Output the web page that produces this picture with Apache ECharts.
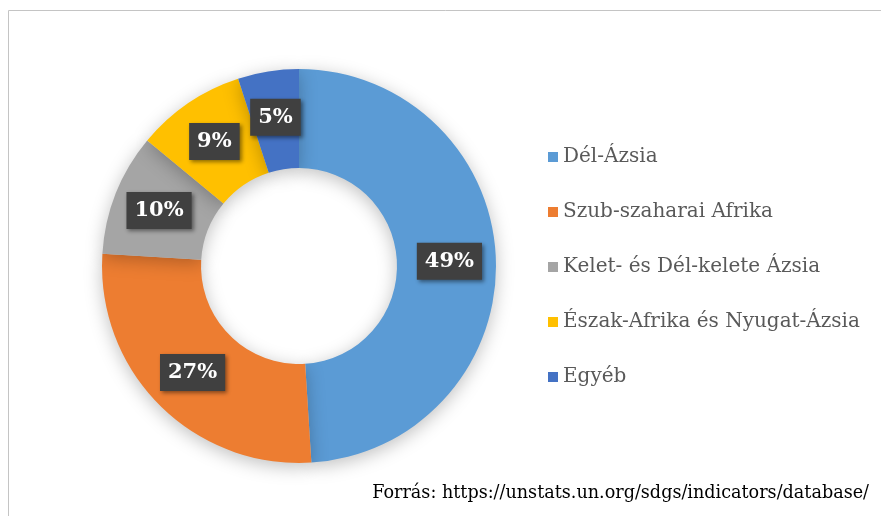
<!DOCTYPE html>
<html>
<head>
<meta charset="utf-8">
<script src="https://cdn.jsdelivr.net/npm/echarts@6/dist/echarts.min.js"></script>
<style>
  html, body { margin: 0; padding: 0; background: #fff; }
  #chart { width: 881px; height: 516px; }
</style>
</head>
<body>
<div id="chart"></div>
<script>
// régiók és arányok (%)
const regions = [
  "Dél-Ázsia",
  "Szub-szaharai Afrika",
  "Kelet- és Dél-kelete Ázsia",
  "Észak-Afrika és Nyugat-Ázsia",
  "Egyéb",
];
const shares = [49, 27, 10, 9, 5];
const colors = ["#5B9BD5", "#ED7D31", "#A5A5A5", "#FFC000", "#4472C4"];
const sourceText = "Forrás: https://unstats.un.org/sdgs/indicators/database/";

const serif = "'DejaVu Serif', 'Liberation Serif', serif";

const chart = echarts.init(document.getElementById("chart"));

chart.setOption({
  animation: false,
  color: colors,
  legend: {
    orient: "vertical",
    left: 543,
    top: 142,
    itemGap: 35,
    itemWidth: 10,
    itemHeight: 10,
    icon: "rect",
    data: regions,
    textStyle: {
      fontFamily: serif,
      fontSize: 20,
      color: "#595959",
    },
  },
  graphic: [
    {
      type: "rect",
      shape: { x: 8.5, y: 10.5, width: 1000, height: 600 },
      style: { fill: "none", stroke: "#c4c4c4", lineWidth: 1 },
      silent: true,
    },
    {
      type: "text",
      right: 12,
      top: 484,
      style: {
        text: sourceText,
        fontFamily: serif,
        fontSize: 17.6,
        fill: "#000",
      },
    },
  ],
  series: [
    {
      type: "pie",
      center: [299, 266],
      radius: [98, 197],
      startAngle: 90,
      clockwise: true,
      avoidLabelOverlap: false,
      itemStyle: {
        shadowColor: "rgba(0,0,0,0.25)",
        shadowBlur: 18,
        shadowOffsetY: 4,
      },
      label: {
        show: true,
        position: "inside",
        formatter: "{c}%",
        backgroundColor: "#404040",
        color: "#fff",
        fontFamily: serif,
        fontWeight: "bold",
        fontSize: 21,
        padding: [10, 8, 6, 8],
        shadowColor: "rgba(0,0,0,0.45)",
        shadowBlur: 4,
        shadowOffsetX: 2,
        shadowOffsetY: 2,
      },
      labelLine: { show: false },
      data: regions.map((name, i) => ({ name, value: shares[i] })),
    },
  ],
});
</script>
</body>
</html>
